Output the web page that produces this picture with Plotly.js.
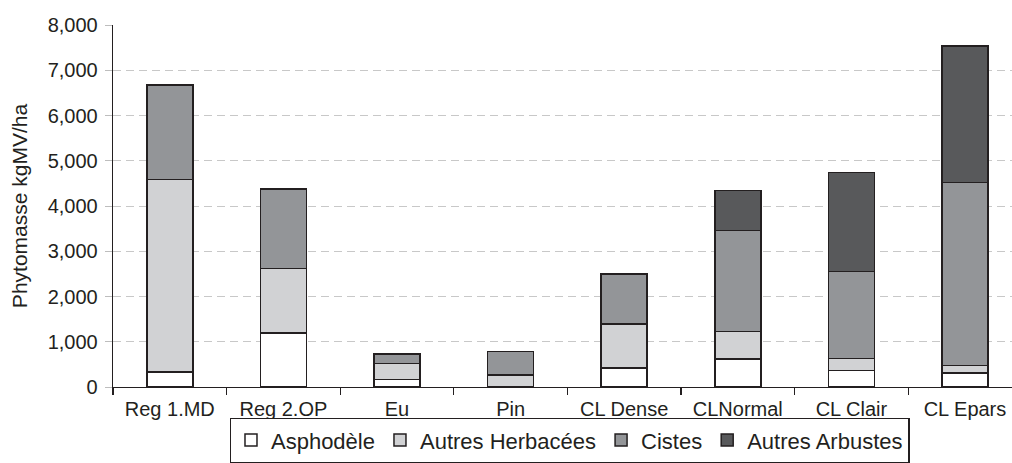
<!DOCTYPE html>
<html>
<head>
<meta charset="utf-8">
<script src="https://cdn.plot.ly/plotly-3.0.1.min.js"></script>
<style>html,body{margin:0;padding:0;background:#fff;}#chart{width:1012px;height:463px;}</style>
</head>
<body>
<div id="chart"></div>
<script>
const categories = ["Reg 1.MD", "Reg 2.OP", "Eu", "Pin", "CL Dense", "CLNormal", "CL Clair", "CL Epars"];
const asphodele = [330, 1190, 170, 0, 420, 620, 370, 310];
const autresHerbacees = [4260, 1430, 350, 260, 970, 610, 260, 170];
const cistes = [2080, 1760, 210, 520, 1110, 2230, 1920, 4040];
const autresArbustes = [0, 0, 0, 0, 0, 880, 2190, 3020];
const seriesNames = ["Asphodèle", "Autres Herbacées", "Cistes", "Autres Arbustes"];
const yTickValues = [0, 1000, 2000, 3000, 4000, 5000, 6000, 7000, 8000];

const ink = "#231f20";
const fills = ["#ffffff", "#d1d2d4", "#939598", "#58595b"];
const seriesValues = [asphodele, autresHerbacees, cistes, autresArbustes];

const traces = seriesValues.map((vals, i) => ({
  type: "bar",
  name: seriesNames[i],
  x: categories,
  y: vals,
  marker: {color: fills[i], line: {color: ink, width: 1.5}},
  hoverinfo: "x+y+name"
}));

const layout = {
  width: 1012,
  height: 463,
  margin: {l: 113, r: 0, t: 25, b: 73},
  paper_bgcolor: "#ffffff",
  plot_bgcolor: "#ffffff",
  barmode: "stack",
  bargap: 0.595,
  font: {family: "Liberation Sans, Arial, sans-serif", color: ink, size: 20},
  showlegend: true,
  legend: {
    orientation: "h",
    x: 0.508, xanchor: "center",
    y: -0.087, yanchor: "top",
    bordercolor: ink, borderwidth: 1.3,
    font: {size: 22, color: ink},
    traceorder: "normal"
  },
  xaxis: {
    type: "category",
    range: [-0.5, 7.414],
    showline: true, linecolor: ink, linewidth: 1.3,
    ticks: "outside", tickson: "boundaries", ticklen: 7, tickcolor: ink, tickwidth: 1.3,
    ticklabelstandoff: 4,
    showgrid: false, zeroline: false,
    tickfont: {size: 20, color: ink}
  },
  yaxis: {
    range: [0, 8000],
    tickvals: yTickValues,
    tickformat: ",",
    showline: true, linecolor: ink, linewidth: 1.3,
    ticks: "outside", ticklen: 7, tickcolor: "#bdbdbd", tickwidth: 1,
    ticklabelstandoff: 3,
    showgrid: true, gridcolor: "#c8c8c8", gridwidth: 1, griddash: "8px,5px",
    zeroline: false,
    tickfont: {size: 20, color: ink},
    title: {text: "Phytomasse kgMV/ha", font: {size: 21, color: ink}, standoff: 14}
  }
};

Plotly.newPlot("chart", traces, layout, {displayModeBar: false, staticPlot: true});
</script>
</body>
</html>
